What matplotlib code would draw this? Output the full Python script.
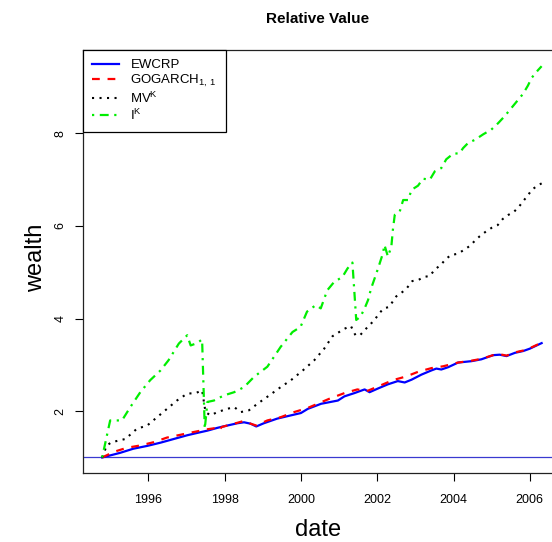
import numpy as np
import matplotlib
matplotlib.use("Agg")
import matplotlib.pyplot as plt

plt.rcParams['font.family'] = ['Liberation Sans', 'DejaVu Sans']
plt.rcParams['mathtext.fontset'] = 'custom'
plt.rcParams['mathtext.rm'] = 'Liberation Sans'
plt.rcParams['mathtext.it'] = 'Liberation Sans:italic'
plt.rcParams['mathtext.default'] = 'regular'

# values (decimal year, wealth)
ew_date = [1994.79, 1995.26, 1995.61, 1995.97, 1996.32, 1996.67, 1997.02, 1997.28,
           1997.55, 1997.81, 1998.07, 1998.34, 1998.51, 1998.68, 1998.83, 1999.03,
           1999.38, 1999.74, 2000.00, 2000.18, 2000.53, 2000.97, 2001.14, 2001.40,
           2001.67, 2001.80, 2002.02, 2002.28, 2002.54, 2002.72, 2002.90, 2003.16,
           2003.42, 2003.55, 2003.68, 2003.86, 2004.12, 2004.47, 2004.73, 2005.04,
           2005.21, 2005.39, 2005.61, 2005.83, 2006.00, 2006.18, 2006.31]
ew_val = [1.00, 1.10, 1.19, 1.25, 1.32, 1.40, 1.48, 1.53,
          1.58, 1.64, 1.69, 1.74, 1.76, 1.73, 1.67, 1.74,
          1.84, 1.91, 1.96, 2.05, 2.16, 2.23, 2.32, 2.39,
          2.47, 2.41, 2.49, 2.58, 2.65, 2.62, 2.68, 2.79,
          2.88, 2.92, 2.90, 2.95, 3.05, 3.08, 3.12, 3.21,
          3.22, 3.19, 3.26, 3.30, 3.35, 3.42, 3.47]

go_date = [1994.79, 1995.09, 1995.44, 1995.79, 1996.14, 1996.49, 1996.84, 1997.19,
           1997.55, 1997.72, 1997.82, 1997.93, 1998.25, 1998.51, 1998.68, 1998.83,
           1999.12, 1999.47, 1999.82, 2000.18, 2000.75, 2001.14, 2001.48, 2001.72,
           2002.04, 2002.41, 2002.76, 2003.07, 2003.42, 2003.73, 2004.12, 2004.47,
           2004.73, 2005.04, 2005.21, 2005.39, 2005.61, 2005.83, 2006.00, 2006.18,
           2006.31]
go_val = [1.00, 1.12, 1.21, 1.26, 1.33, 1.43, 1.49, 1.55,
          1.61, 1.63, 1.57, 1.66, 1.73, 1.79, 1.73, 1.69,
          1.80, 1.87, 1.98, 2.07, 2.27, 2.39, 2.47, 2.43,
          2.54, 2.67, 2.75, 2.85, 2.93, 2.97, 3.05, 3.09,
          3.13, 3.21, 3.23, 3.20, 3.27, 3.31, 3.36, 3.43,
          3.48]

mv_date = [1994.79, 1994.91, 1995.04, 1995.40, 1995.70, 1995.97, 1996.23, 1996.49,
           1996.75, 1997.02, 1997.24, 1997.41, 1997.50, 1997.63, 1997.81, 1998.07,
           1998.25, 1998.42, 1998.64, 1998.86, 1999.17, 1999.47, 1999.74, 2000.05,
           2000.35, 2000.61, 2000.83, 2001.14, 2001.31, 2001.43, 2001.55, 2001.67,
           2001.80, 2001.93, 2002.05, 2002.17, 2002.31, 2002.50, 2002.64, 2002.77,
           2002.92, 2003.07, 2003.23, 2003.38, 2003.51, 2003.67, 2003.79, 2003.93,
           2004.11, 2004.27, 2004.43, 2004.56, 2004.69, 2004.85, 2005.00, 2005.16,
           2005.29, 2005.44, 2005.59, 2005.72, 2005.83, 2005.95, 2006.05, 2006.20,
           2006.31]
mv_val = [1.00, 1.26, 1.33, 1.40, 1.62, 1.69, 1.87, 2.05,
          2.23, 2.38, 2.39, 2.45, 1.98, 1.91, 1.98, 2.05,
          2.09, 1.98, 2.02, 2.16, 2.34, 2.52, 2.67, 2.88,
          3.10, 3.35, 3.62, 3.78, 3.84, 3.64, 3.64, 3.75,
          3.86, 3.97, 4.11, 4.22, 4.25, 4.48, 4.56, 4.65,
          4.81, 4.83, 4.90, 4.92, 5.06, 5.16, 5.28, 5.37,
          5.40, 5.48, 5.57, 5.68, 5.78, 5.88, 5.96, 6.02,
          6.15, 6.24, 6.31, 6.42, 6.54, 6.66, 6.78, 6.87,
          6.92]

ik_date = [1994.79, 1995.00, 1995.31, 1995.53, 1995.79, 1996.05, 1996.32, 1996.53,
           1996.80, 1997.02, 1997.11, 1997.28, 1997.41, 1997.48, 1997.55, 1997.72,
           1997.98, 1998.25, 1998.51, 1998.77, 1999.12, 1999.47, 1999.78, 1999.99,
           2000.16, 2000.39, 2000.52, 2000.69, 2000.87, 2001.09, 2001.22, 2001.35,
           2001.45, 2001.56, 2001.67, 2001.76, 2001.84, 2001.98, 2002.06, 2002.15,
           2002.19, 2002.28, 2002.37, 2002.41, 2002.46, 2002.59, 2002.68, 2002.81,
           2002.90, 2003.07, 2003.20, 2003.38, 2003.51, 2003.68, 2003.81, 2003.99,
           2004.16, 2004.25, 2004.38, 2004.56, 2004.78, 2004.99, 2005.17, 2005.34,
           2005.52, 2005.69, 2005.82, 2005.95, 2006.05, 2006.21, 2006.31]
ik_val = [1.00, 1.80, 1.80, 2.09, 2.41, 2.67, 2.88, 3.10,
          3.46, 3.64, 3.42, 3.47, 3.55, 1.62, 2.20, 2.23,
          2.34, 2.41, 2.52, 2.74, 2.96, 3.39, 3.71, 3.82,
          4.15, 4.29, 4.22, 4.61, 4.79, 4.90, 5.08, 5.21,
          3.97, 4.04, 4.22, 4.40, 4.65, 4.98, 5.18, 5.41,
          5.59, 5.34, 5.55, 5.91, 6.24, 6.31, 6.56, 6.56,
          6.78, 6.87, 7.02, 7.00, 7.18, 7.25, 7.44, 7.56,
          7.57, 7.68, 7.79, 7.86, 7.98, 8.08, 8.22, 8.37,
          8.55, 8.72, 8.85, 9.03, 9.20, 9.36, 9.45]

W, H = 552, 542
fig = plt.figure(figsize=(W / 100, H / 100), dpi=100)
# plot region in pixels: left 83, right 553 (just past the edge), top 50, bottom 473
ax = fig.add_axes([83 / W, (H - 473) / H, (553 - 83) / W, (473 - 50) / H])

ax.axhline(1, color='#3a3ad0', lw=0.9, zorder=1)
ax.plot(ew_date, ew_val, color='blue', lw=1.6, label='EWCRP')
ax.plot(go_date, go_val, color='red', lw=1.6, dashes=(3.5, 3.5), label=r'GOGARCH$_{1,\,1}$')
ax.plot(mv_date, mv_val, color='black', lw=1.5, dashes=(1, 2.6), label=r'MV$^{K}$')
ax.plot(ik_date, ik_val, color='#00ee00', lw=1.6, dashes=(1, 2.5, 4, 2.5), label=r'I$^{K}$')

ax.set_xlim(1994.288, 2006.608)
ax.set_ylim(0.665, 9.80)
ax.set_xticks([1996, 1998, 2000, 2002, 2004, 2006])
ax.set_yticks([2, 4, 6, 8])
ax.tick_params(axis='both', direction='out', length=6, width=0.8, labelsize=9)
ax.tick_params(axis='x', pad=9)
ax.tick_params(axis='y', pad=6)
for lab in ax.get_yticklabels():
    lab.set_rotation(90)
    lab.set_va('center')
for s in ax.spines.values():
    s.set_linewidth(0.9)
    s.set_color('#222222')

leg = ax.legend(loc='upper left', bbox_to_anchor=(0, 1), borderaxespad=0,
                fancybox=False, framealpha=1, edgecolor='black', fontsize=9.5,
                handlelength=2.0, handletextpad=0.9, labelspacing=0.12,
                borderpad=0.7)
leg.get_frame().set_linewidth(0.9)

fig.text(318 / W, 1 - 23.3 / H, 'Relative Value', ha='center', va='baseline',
         fontsize=11, fontweight='bold')
fig.text(318 / W, 1 - 536.5 / H, 'date', ha='center', va='baseline', fontsize=17)
fig.text(41.7 / W, 1 - 258 / H, 'wealth', ha='center', va='baseline', fontsize=17,
         rotation=90, rotation_mode='anchor')

fig.savefig('out.png', dpi=100)
